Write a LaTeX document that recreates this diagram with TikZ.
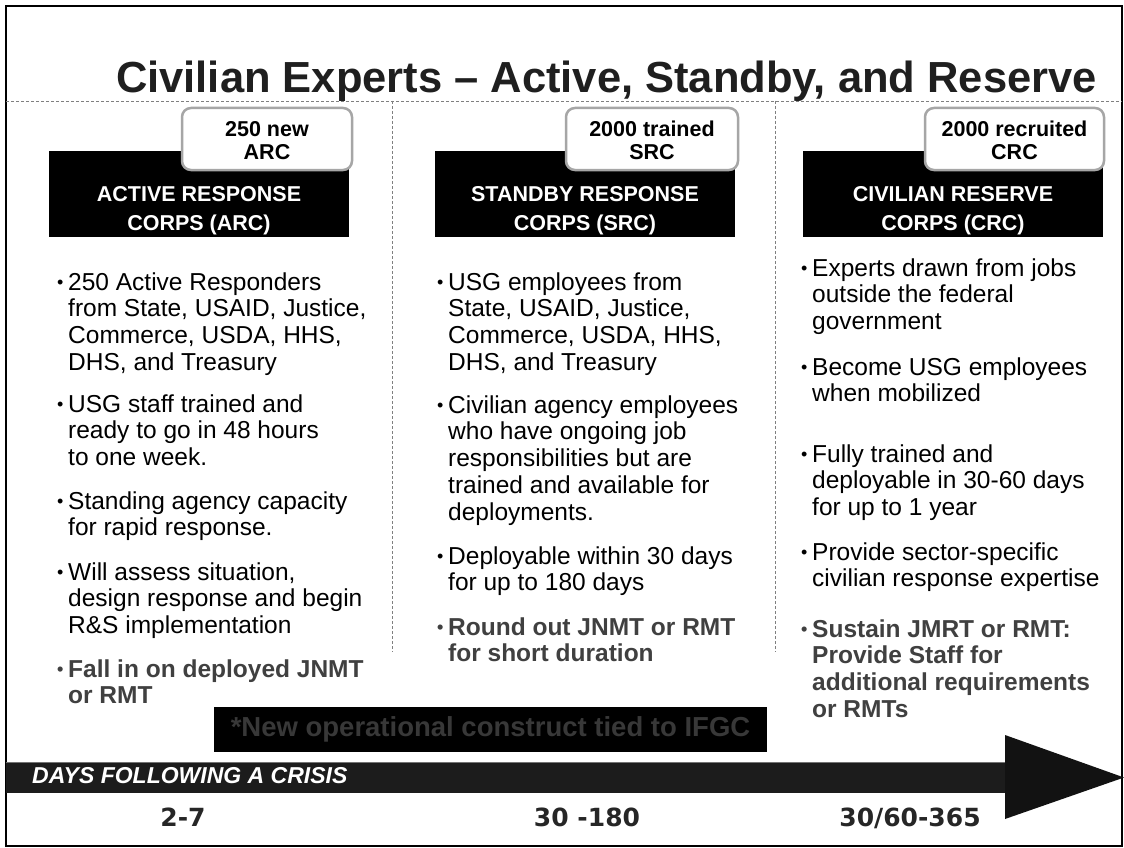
\documentclass[tikz,border=0pt]{standalone}
\usepackage{fontspec}
\setmainfont{Liberation Sans}
\newfontfamily\numfont{DejaVu Sans}
\definecolor{boldgray}{HTML}{404040}
\definecolor{badgeline}{HTML}{A6A6A6}
\definecolor{dashgray}{HTML}{7F7F7F}
\definecolor{bandcol}{HTML}{1C1C1C}
\definecolor{notecol}{HTML}{383838}
\newcommand{\bodyfont}{\fontsize{24.5}{26.8}\selectfont}
\newcommand{\bul}{\makebox[11pt][l]{\fontsize{18}{18}\selectfont\raisebox{2pt}{•}}}
\newcommand{\blist}[1]{\bodyfont\bul\parbox[t]{330pt}{\bodyfont\raggedright #1}}
\begin{document}
\begin{tikzpicture}[x=1pt,y=-1pt,
  bullettext/.style={anchor=base west,inner sep=0pt,text=black},
  boldtext/.style={anchor=base west,inner sep=0pt,text=boldgray,font=\bfseries},
  corpsbox/.style={fill=black,draw=none},
  corpslabel/.style={text=white,font=\fontsize{21.5}{28.5}\selectfont\bfseries,align=center,inner sep=0pt,anchor=base},
  badge/.style={fill=white,draw=badgeline,line width=2.5pt,rounded corners=9pt},
  badgelabel/.style={text=black,font=\fontsize{21.5}{23}\selectfont\bfseries,align=center,inner sep=0pt,anchor=base},
  sepline/.style={draw=dashgray,line width=0.8pt,dash pattern=on 3pt off 2pt},
  daynum/.style={font=\numfont\fontsize{25}{25}\selectfont\bfseries,text=black!85,anchor=base,inner sep=0pt}]
\useasboundingbox (0,0) rectangle (1124,848);
\fill[white] (0,0) rectangle (1124,848);
% frame
\draw[line width=2pt] (6,6) rectangle (1122,846);
% title
\node[anchor=base east,inner sep=0pt,font=\fontsize{43.5}{50}\selectfont\bfseries,text=black!88] (title) at (1097,93) {Civilian Experts – Active, Standby, and Reserve};
% separators
\draw[sepline] (6,101) -- (1122,101);
\draw[sepline] (392,101) -- (392,652);
\draw[sepline] (775,101) -- (775,652);
% corps boxes
\fill[corpsbox] (49,151) rectangle (349,237);
\fill[corpsbox] (435,151) rectangle (735,237);
\fill[corpsbox] (803,151) rectangle (1103,237);
\node[corpslabel] (arc) at (199,230) {ACTIVE RESPONSE\\CORPS (ARC)};
\node[corpslabel] (src) at (585,230) {STANDBY RESPONSE\\CORPS (SRC)};
\node[corpslabel] (crc) at (953,230) {CIVILIAN RESERVE\\CORPS (CRC)};
% badges
\draw[badge] (182,108) rectangle (352,170);
\draw[badge] (566,108) rectangle (738,170);
\draw[badge] (925,108) rectangle (1104,170);
\node[badgelabel] (arcn) at (267,160) {250 new\\ARC};
\node[badgelabel] (srcn) at (652,160) {2000 trained\\SRC};
\node[badgelabel] (crcn) at (1014.5,160) {2000 recruited\\CRC};
% left column
\node[bullettext] (l1) at (57,290) {\blist{250 Active Responders\\from State, USAID, Justice,\\Commerce, USDA, HHS,\\DHS, and Treasury}};
\node[bullettext] (l2) at (57,412) {\blist{USG staff trained and\\ready to go in 48 hours\\to one week.}};
\node[bullettext] (l3) at (57,509) {\blist{Standing agency capacity\\for rapid response.}};
\node[bullettext] (l4) at (57,580) {\blist{Will assess situation,\\design response and begin\\R\&S implementation}};
\node[boldtext] (l5) at (57,677) {\blist{\bfseries Fall in on deployed JNMT\\or RMT}};
% middle column
\node[bullettext] (m1) at (437,290) {\blist{USG employees from\\State, USAID, Justice,\\Commerce, USDA, HHS,\\DHS, and Treasury}};
\node[bullettext] (m2) at (437,413) {\blist{Civilian agency employees\\who have ongoing job\\responsibilities but are\\trained and available for\\deployments.}};
\node[bullettext] (m3) at (437,564) {\blist{Deployable within 30 days\\for up to 180 days}};
\node[boldtext] (m4) at (437,635) {\blist{\bfseries Round out JNMT or RMT\\for short duration}};
% right column
\node[bullettext] (r1) at (801,276) {\blist{Experts drawn from jobs\\outside the federal\\government}};
\node[bullettext] (r2) at (801,375) {\blist{Become USG employees\\when mobilized}};
\node[bullettext] (r3) at (801,462) {\blist{Fully trained and\\deployable in 30-60 days\\for up to 1 year}};
\node[bullettext] (r4) at (801,560) {\blist{Provide sector-specific\\civilian response expertise}};
\node[boldtext] (r5) at (801,637) {\blist{\bfseries Sustain JMRT or RMT:\\Provide Staff for\\additional requirements\\or RMTs}};
% note box
\node[fill=black,minimum width=553pt,minimum height=45pt,inner sep=0pt,text=notecol,font=\fontsize{27.5}{30}\selectfont\bfseries] (note) at (490.5,729.5) {*New operational construct tied to IFGC};
% timeline arrow
\fill[bandcol] (6,762) rectangle (1006,793);
\draw[black!55,line width=1pt] (6,762.5) -- (1006,762.5);
\fill[black!93] (1005,735) -- (1124,777.5) -- (1005,819) -- cycle;
\node[anchor=base west,inner sep=0pt,text=white,font=\fontsize{23}{23}\selectfont\bfseries\itshape] (days) at (32,783) {DAYS FOLLOWING A CRISIS};
\node[daynum] (d1) at (183,826) {2-7};
\node[daynum] (d2) at (587,826) {30 -180};
\node[daynum] (d3) at (910,826) {30/60-365};
\end{tikzpicture}
\end{document}
